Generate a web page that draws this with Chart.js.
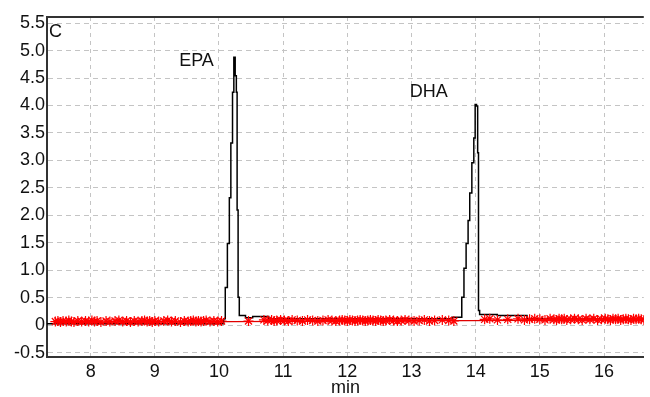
<!DOCTYPE html>
<html>
<head>
<meta charset="utf-8">
<script src="https://cdn.jsdelivr.net/npm/chart.js@4"></script>
<style>
  html, body { margin: 0; padding: 0; background: #fff; }
  #wrap { width: 650px; height: 397px; }
</style>
</head>
<body>
<div id="wrap"><canvas id="chromChart"></canvas></div>
<script>
// Ejes
const xTicks = [8, 9, 10, 11, 12, 13, 14, 15, 16];
const yTicks = [-0.5, 0, 0.5, 1.0, 1.5, 2.0, 2.5, 3.0, 3.5, 4.0, 4.5, 5.0, 5.5];

// Traza del cromatograma (min, señal)
const traceTimes = [7.32, 10.06, 10.085, 10.111, 10.151, 10.172, 10.198, 10.224, 10.239, 10.266,
  10.275, 10.29, 10.306, 10.327, 10.50, 10.55, 11.0, 13.5, 13.765, 13.802,
  13.833, 13.869, 13.895, 13.92, 13.961, 13.981, 14.003, 14.023, 14.039, 14.049,
  14.074, 14.6, 15.0, 16.62];
const traceValues = [0.03, 0.03, 0.12, 0.69, 1.49, 2.32, 3.32, 4.24, 4.88, 4.54,
  4.24, 2.10, 0.51, 0.18, 0.14, 0.16, 0.12, 0.12, 0.15, 0.51,
  1.04, 1.49, 1.91, 2.41, 2.96, 3.41, 4.02, 3.99, 3.14, 0.27,
  0.20, 0.18, 0.12, 0.12];

// Línea base roja
const baseTimes = [7.45, 16.62];
const baseValues = [0.055, 0.10];

// Marcadores de ruido (*)
const starTimes = [
  7.45, 7.49, 7.53, 7.57, 7.62, 7.66, 7.70, 7.74, 7.80, 7.86,
  7.92, 7.97, 8.02, 8.06, 8.10, 8.16, 8.24, 8.30, 8.38, 8.44,
  8.50, 8.56, 8.62, 8.68, 8.74, 8.80, 8.84, 8.88, 8.92, 8.96,
  9.00, 9.06, 9.14, 9.20, 9.26, 9.32, 9.40, 9.46, 9.52, 9.56,
  9.60, 9.64, 9.68, 9.72, 9.76, 9.80, 9.86, 9.92, 9.98, 10.04,
  10.46, 10.70, 10.76, 10.82, 10.86, 10.90, 10.96, 11.02, 11.08, 11.14,
  11.22, 11.30, 11.38, 11.46, 11.54, 11.62, 11.70, 11.76, 11.82, 11.88,
  11.92, 11.96, 12.00, 12.04, 12.08, 12.12, 12.16, 12.20, 12.24, 12.28,
  12.32, 12.36, 12.40, 12.44, 12.48, 12.52, 12.56, 12.60, 12.66, 12.72,
  12.78, 12.84, 12.90, 12.96, 13.04, 13.12, 13.20, 13.28, 13.36, 13.48,
  13.58, 13.66,
  14.14, 14.22, 14.34, 14.50, 14.66, 14.76, 14.84, 14.92, 15.00, 15.08,
  15.16, 15.22, 15.26, 15.30, 15.34, 15.38, 15.42, 15.48, 15.54, 15.60,
  15.66, 15.72, 15.78, 15.84, 15.90, 15.96, 16.02, 16.06, 16.10, 16.14,
  16.18, 16.22, 16.26, 16.30, 16.34, 16.38, 16.42, 16.46, 16.50, 16.54,
  16.58, 16.62
];
const starValues = [
  0.07, 0.08, 0.06, 0.08, 0.07, 0.09, 0.07, 0.06, 0.08, 0.07,
  0.08, 0.07, 0.09, 0.07, 0.08, 0.06, 0.08, 0.07, 0.08, 0.09,
  0.07, 0.08, 0.06, 0.08, 0.07, 0.08, 0.09, 0.07, 0.08, 0.06,
  0.08, 0.07, 0.08, 0.09, 0.07, 0.08, 0.06, 0.08, 0.07, 0.08,
  0.09, 0.07, 0.08, 0.07, 0.08, 0.09, 0.07, 0.08, 0.07, 0.08,
  0.08, 0.10, 0.09, 0.10, 0.08, 0.09, 0.10, 0.09, 0.08, 0.10,
  0.09, 0.08, 0.10, 0.09, 0.08, 0.09, 0.10, 0.09, 0.08, 0.09,
  0.10, 0.09, 0.08, 0.10, 0.09, 0.08, 0.09, 0.10, 0.09, 0.08,
  0.09, 0.10, 0.09, 0.08, 0.10, 0.09, 0.08, 0.09, 0.10, 0.09,
  0.08, 0.09, 0.10, 0.09, 0.08, 0.09, 0.10, 0.08, 0.09, 0.10,
  0.09, 0.08,
  0.11, 0.12, 0.10, 0.11, 0.12, 0.10, 0.11, 0.12, 0.11, 0.10,
  0.12, 0.11, 0.10, 0.12, 0.11, 0.12, 0.10, 0.11, 0.12, 0.11,
  0.10, 0.12, 0.11, 0.12, 0.10, 0.11, 0.12, 0.11, 0.10, 0.12,
  0.11, 0.12, 0.10, 0.11, 0.12, 0.11, 0.10, 0.12, 0.11, 0.12,
  0.11, 0.10
];

// Etiquetas de picos
const peakLabels = ['C', 'EPA', 'DHA'];
const peakLabelX = [7.35, 9.65, 13.27];
const peakLabelY = [5.33, 4.80, 4.24];

const toPoints = (xs, ys) => xs.map((x, i) => ({ x: x, y: ys[i] }));

const FONT = "'Liberation Sans', Arial, sans-serif";

// Plugin: borde superior y textos dentro del gráfico
const extrasPlugin = {
  id: 'extras',
  afterDraw(chart) {
    const { ctx, chartArea, scales } = chart;
    ctx.save();
    ctx.strokeStyle = '#333';
    ctx.lineWidth = 2;
    ctx.beginPath();
    ctx.moveTo(chartArea.left, chartArea.top);
    ctx.lineTo(chartArea.right, chartArea.top);
    ctx.stroke();

    ctx.fillStyle = '#111';
    ctx.font = '18px ' + FONT;
    ctx.textBaseline = 'middle';
    peakLabels.forEach((txt, i) => {
      ctx.textAlign = i === 0 ? 'left' : 'center';
      ctx.fillText(txt, scales.x.getPixelForValue(peakLabelX[i]), scales.y.getPixelForValue(peakLabelY[i]));
    });
    ctx.restore();
  }
};

new Chart(document.getElementById('chromChart'), {
  type: 'scatter',
  data: {
    datasets: [{
      label: 'base',
      data: toPoints(baseTimes, baseValues),
      showLine: true,
      borderColor: '#e00000',
      borderWidth: 1.2,
      pointRadius: 0,
      order: 3
    }, {
      label: 'señal',
      data: toPoints(traceTimes, traceValues),
      showLine: true,
      stepped: 'middle',
      borderColor: '#000',
      borderWidth: 1.5,
      pointRadius: 0,
      order: 2
    }, {
      label: 'ruido',
      data: toPoints(starTimes, starValues),
      pointStyle: 'star',
      pointRadius: 5,
      borderColor: '#ff0000',
      backgroundColor: '#ff0000',
      borderWidth: 1.2,
      order: 1
    }]
  },
  options: {
    responsive: true,
    maintainAspectRatio: false,
    animation: false,
    layout: { padding: { top: 17, right: 0, left: 0, bottom: 0 } },
    plugins: {
      legend: { display: false },
      tooltip: { enabled: false }
    },
    scales: {
      x: {
        type: 'linear',
        min: 7.32,
        max: 16.62,
        afterBuildTicks: axis => { axis.ticks = xTicks.map(v => ({ value: v })); },
        afterFit: axis => { axis.height = 40; },
        border: { display: true, color: '#333', width: 2, dash: [4, 4] },
        grid: {
          color: '#c4c4c4',
          lineWidth: 1,
          drawTicks: false
        },
        ticks: {
          padding: 4,
          color: '#111',
          font: { family: FONT, size: 18 },
          maxRotation: 0,
          callback: v => String(v)
        },
        title: {
          display: true,
          text: 'min',
          color: '#111',
          padding: { top: 0, bottom: -2 },
          font: { family: FONT, size: 18 }
        }
      },
      y: {
        type: 'linear',
        min: -0.575,
        max: 5.61,
        afterBuildTicks: axis => { axis.ticks = yTicks.map(v => ({ value: v })); },
        afterFit: axis => { axis.width = 47; },
        border: { display: true, color: '#333', width: 2, dash: [5, 4] },
        grid: {
          color: '#c4c4c4',
          lineWidth: 1,
          drawTicks: false
        },
        ticks: {
          padding: 2,
          color: '#111',
          font: { family: FONT, size: 18 },
          callback: v => (v === 0 ? '0' : v.toFixed(1))
        }
      }
    }
  },
  plugins: [extrasPlugin]
});
</script>
</body>
</html>
